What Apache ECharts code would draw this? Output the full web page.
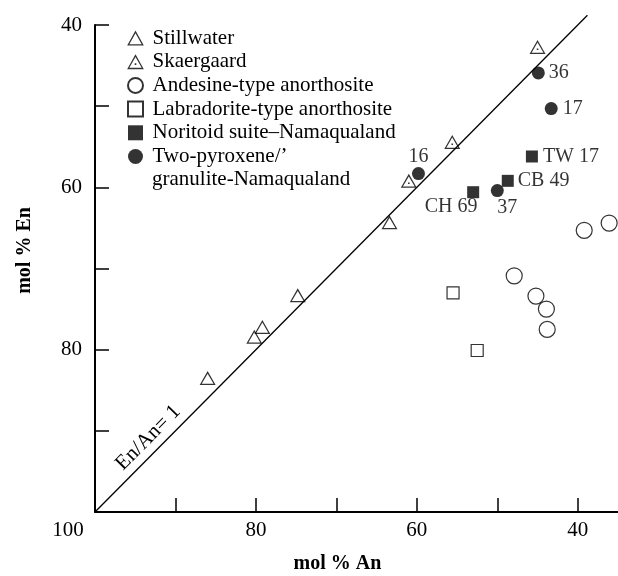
<!DOCTYPE html>
<html>
<head>
<meta charset="utf-8">
<style>
  html, body { margin: 0; padding: 0; background: #fff; }
  #chart { width: 618px; height: 576px; }
</style>
<script src="https://cdn.jsdelivr.net/npm/echarts@6/dist/echarts.min.js"></script>
</head>
<body>
<div id="chart"></div>
<script>
// 数据点：[mol % An, mol % En]
const stillwater = [[63.4, 64.3], [74.8, 73.3], [79.2, 77.2], [80.2, 78.4], [86.0, 83.5]]
const skaergaard = [[45.0, 42.7], [55.6, 54.4], [61.0, 59.2]]
const andesine = [[39.2, 65.3], [36.1, 64.4], [47.9, 70.9], [45.2, 73.4], [43.9, 75.0], [43.8, 77.5]]
const labradorite = [[55.5, 73.0], [52.5, 80.1]]
const noritoid = [[53.0, 60.6], [48.7, 59.2], [45.7, 56.2]]
const noritoidLabels = ['CH 69', 'CB 49', 'TW 17']
const twoPyroxene = [[44.9, 45.9], [43.3, 50.3], [59.8, 58.3], [50.0, 60.4]]
const twoPyroxeneLabels = ['36', '17', '16', '37']

// En/An = 1 参考线
const unityLine = [[100, 100], [38.8, 38.8]]
const unityLabel = 'En/An= 1'

// 刻度
const xTicks = [90, 80, 70, 60, 50, 40]
const xTickLabels = [100, 80, 60, 40]
const yTicks = [40, 50, 60, 70, 80, 90]
const yTickLabels = [40, 60, 80]

const names = [
  'Stillwater',
  'Skaergaard',
  'Andesine-type anorthosite',
  'Labradorite-type anorthosite',
  'Noritoid suite–Namaqualand',
  'Two-pyroxene/’\ngranulite-Namaqualand'
]

const FONT = '"Liberation Serif", "Times New Roman", serif'
const INK = '#000'

// 空心三角形（可带中心点），用非零填充规则挖空
const TRI = 'M50 0 L100 90 L0 90 Z M50 17 L13 82 L87 82 Z'
const TRI_DOT = TRI + ' M45 55 L55 55 L55 65 L45 65 Z'
const SQUARE = 'path://M0 0 L10 0 L10 10 L0 10 Z'

// 标签位置
const labelPlace = {
  'CH 69': { position: 'inside', offset: [-22, 15] },
  'CB 49': { position: 'right', distance: 4 },
  'TW 17': { position: 'right', distance: 5 },
  '36': { position: 'right', distance: 4 },
  '17': { position: 'right', distance: 5 },
  '16': { position: 'top', distance: 0 },
  '37': { position: 'inside', offset: [10, 17] }
}

function labelled(points, labels) {
  return points.map((p, i) => ({
    value: p,
    label: Object.assign({
      show: true,
      formatter: labels[i],
      color: INK,
      fontFamily: FONT,
      fontSize: 20
    }, labelPlace[labels[i]])
  }))
}

const chart = echarts.init(document.getElementById('chart'))

const option = {
  animation: false,
  backgroundColor: '#fff',
  grid: { left: 95, right: 0, top: 25, bottom: 64, containLabel: false, outerBoundsMode: 'none' },
  legend: {
    orient: 'vertical',
    left: 127,
    top: 27,
    padding: 0,
    itemGap: 1.7,
    itemWidth: 24,
    itemHeight: 15,
    selectedMode: false,
    data: names,
    formatter: name => name.split('\n')[0],
    textStyle: { fontFamily: FONT, fontSize: 21, color: INK, lineHeight: 22 }
  },
  graphic: [{
    type: 'text',
    left: 152,
    top: 169,
    style: {
      text: names[5].split('\n')[1],
      font: '21px ' + FONT,
      fill: INK
    }
  }],
  xAxis: {
    type: 'value',
    inverse: true,
    min: 35,
    max: 100,
    name: 'mol % An',
    nameLocation: 'middle',
    nameGap: 42,
    nameTextStyle: {
      fontFamily: FONT, fontSize: 20, fontWeight: 'bold', color: INK,
      padding: [0, 38, 0, 0]
    },
    axisLine: { onZero: false, lineStyle: { color: INK, width: 2 } },
    axisTick: { inside: true, length: 14, customValues: xTicks, lineStyle: { color: INK, width: 1.5 } },
    axisLabel: {
      customValues: xTickLabels,
      margin: 8,
      color: INK,
      fontFamily: FONT,
      fontSize: 21,
      formatter: v => (v === 100 ? '{l|100}' : String(v)),
      rich: { l: { fontFamily: FONT, fontSize: 21, color: INK, padding: [0, 54, 0, 0] } }
    },
    splitLine: { show: false }
  },
  yAxis: {
    type: 'value',
    inverse: true,
    min: 40,
    max: 100,
    name: 'mol % En',
    nameLocation: 'middle',
    nameGap: 60,
    nameRotate: 90,
    nameTextStyle: {
      fontFamily: FONT, fontSize: 20, fontWeight: 'bold', color: INK,
      padding: [0, 0, 0, 36]
    },
    axisLine: { onZero: false, lineStyle: { color: INK, width: 2 } },
    axisTick: { inside: true, length: 14, customValues: yTicks, lineStyle: { color: INK, width: 1.5 } },
    axisLabel: { customValues: yTickLabels, margin: 13, color: INK, fontFamily: FONT, fontSize: 21 },
    splitLine: { show: false }
  },
  series: [
    {
      type: 'line',
      name: 'unity',
      data: unityLine,
      clip: false,
      silent: true,
      showSymbol: false,
      lineStyle: { color: INK, width: 1.3 },
      markLine: {
        silent: true,
        symbol: ['none', 'none'],
        lineStyle: { color: 'rgba(0,0,0,0)', width: 0 },
        label: {
          show: true,
          formatter: unityLabel,
          position: 'insideStartTop',
          distance: [49, 4],
          color: INK,
          fontFamily: FONT,
          fontSize: 21
        },
        data: [[{ coord: [100, 100] }, { coord: [40, 40] }]]
      }
    },
    {
      type: 'scatter', name: names[0], data: stillwater,
      symbol: 'path://' + TRI, symbolSize: [16, 14],
      itemStyle: { color: INK, borderWidth: 0 }
    },
    {
      type: 'scatter', name: names[1], data: skaergaard,
      symbol: 'path://' + TRI_DOT, symbolSize: [16, 14],
      itemStyle: { color: INK, borderWidth: 0 }
    },
    {
      type: 'scatter', name: names[2], data: andesine,
      symbol: 'circle', symbolSize: 16,
      itemStyle: { color: 'rgba(0,0,0,0)', borderColor: INK, borderWidth: 1.2 }
    },
    {
      type: 'scatter', name: names[3], data: labradorite,
      symbol: SQUARE, symbolSize: 12,
      itemStyle: { color: 'rgba(0,0,0,0)', borderColor: INK, borderWidth: 1.2 }
    },
    {
      type: 'scatter', name: names[4], data: labelled(noritoid, noritoidLabels),
      symbol: SQUARE, symbolSize: 12,
      itemStyle: { color: INK }
    },
    {
      type: 'scatter', name: names[5], data: labelled(twoPyroxene, twoPyroxeneLabels),
      symbol: 'circle', symbolSize: 13,
      itemStyle: { color: INK }
    }
  ]
}

chart.setOption(option)
</script>
</body>
</html>
